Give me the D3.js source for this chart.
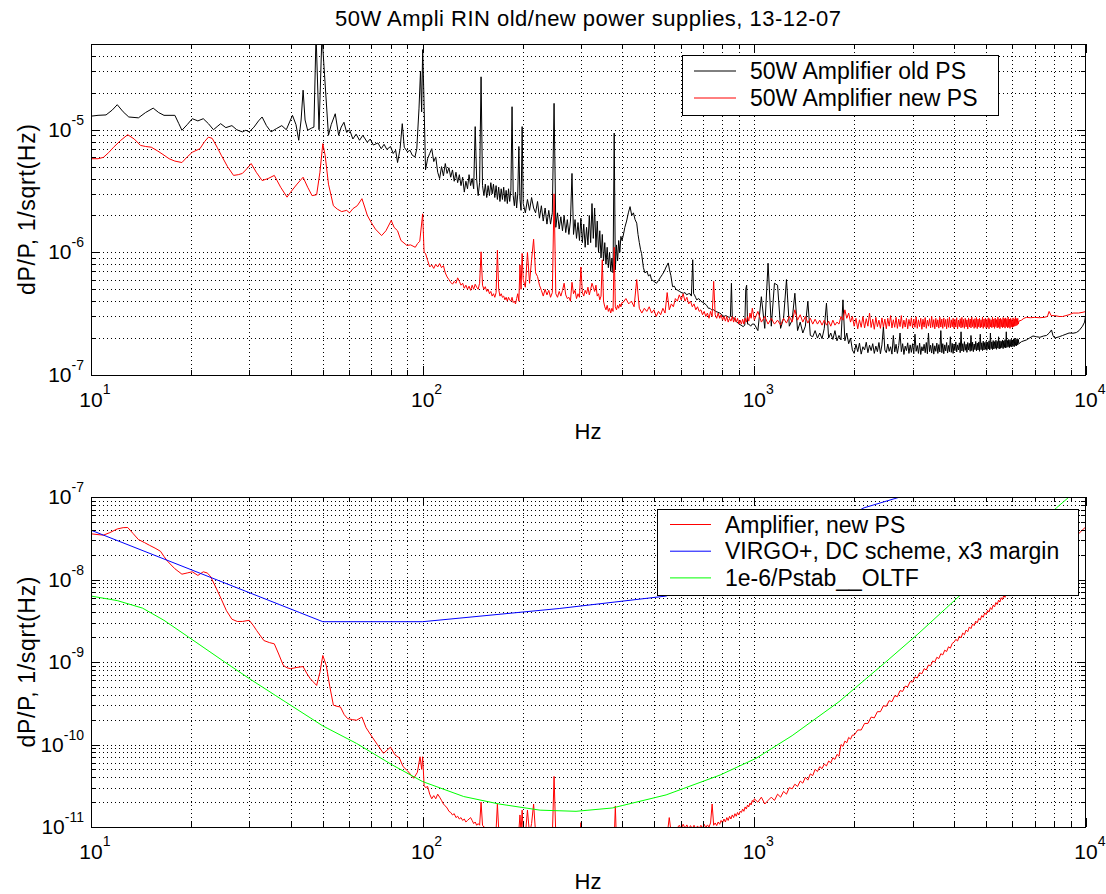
<!DOCTYPE html>
<html><head><meta charset="utf-8">
<script src="https://cdn.jsdelivr.net/npm/d3@7/dist/d3.min.js"></script>
<style>
html,body{margin:0;padding:0;background:#fff;}
svg{display:block;font-family:"Liberation Sans",Arial,Helvetica,sans-serif;}
</style></head><body>
<svg id="chart" width="1106" height="894"></svg>
<script>
// ---------------- DATA ----------------
// Top panel values are in units of 1e-7 1/sqrt(Hz); bottom panel in units of 1e-11 1/sqrt(Hz).
// [Hz, value] pairs for sparse parts; evenly spaced FFT-like bins (start, step) for dense parts.
const titleText = "50W Ampli RIN old/new power supplies, 13-12-07";
const yLabel = "dP/P, 1/sqrt(Hz)";
const xLabel = "Hz";
const topLegend = ["50W Amplifier old PS", "50W Amplifier new PS"];
const botLegend = ["Amplifier, new PS", "VIRGO+, DC scheme, x3 margin", "1e-6/Pstab__OLTF"];
const xTickExp = [1, 2, 3, 4];
const topTickExp = [-7, -6, -5];
const botTickExp = [-11, -10, -9, -8, -7];

// --- old PS (black), top ---
const oldLow = [[10,129],[10.5,131],[11.1,132],[11.6,145],[12.0,160],[12.5,140],[13.0,127],[13.9,125],[14.6,138],[15.4,150],[16.0,138],[16.6,131],[17.9,131],[18.4,112],[18.8,99],[19.5,110],[20.2,123],[21.0,118],[21.8,123],[22.6,112],[23.4,100],[24.0,106],[24.6,112],[25.5,104],[26.6,108],[27.5,100],[28.6,96],[29.3,99],[30.0,96],[31,105],[32.0,118],[32.8,127],[33.8,108],[34.9,96],[36.2,102],[37.6,108],[38.8,100],[40.5,131],[41.5,110],[42.3,82],[43.0,120],[43.6,210],[44.2,120],[45.0,99],[46.2,103],[47.0,105],[47.7,600],[48.7,100],[49.7,600],[50.6,280],[52,90],[53,110],[54.5,135],[55.8,90],[56.8,105],[57.9,115],[59,95],[60.2,100],[61.6,84],[63,92],[64.5,82],[66,90],[68.1,79],[69.5,84],[71,75],[73.3,78],[75,70],[76.5,76],[78,69],[80,73],[81.5,64],[82.9,68],[84,54],[85.5,70],[86.8,112],[88,72],[90,66],[91.6,68],[93,62],[94.8,60],[96,70],[97.5,150],[98.5,300],[99.3,140],[100,450],[100.8,200]];
const oldBins1 = [47,58,64,70,55,60,45,40,50,42,53,44,49,41,47,38,45,37,43,35,41,31,38,33,43,35,40,33,106,39,29,37,270,35,29,36,28,35,29,37,30,36,28,35,27,34,26,33,27,34,26,32,25,33,26,32,154,29,24,31,23,30,73,27,22,106];
const oldBins2 = [25,21,27,22,28,23,21,26,19,24,18,23,17,22,17,21,164,16,21,15.5,19.5,15,20,14.5,18.5,14,18,44,14,18.5,13,17.5,12.5,19,12,17,11,16,11.5,20,12,25,13,23,11,18,10,15,9,14,8.5,12,8,11,7.5,10,7,9,6.8,94,7.2,11.5,8.5,12.5,10,13.5,12.5];
const oldMid = [[402,13.5],[407,16],[412,18],[417,21],[422,23.6],[427,20],[432,21],[437,18.5],[442,17.3],[446,14],[450,12],[454,10.5],[457,9.8],[463,7.5],[468,6.8],[474,7.0],[480,6.4],[485,6.6],[490,6.0],[498,5.8],[507,5.6],[514,5.9],[520,6.2],[528,6.6],[535,7.0],[542,7.6],[550,8.2],[555,7.2],[560,6.5],[567,5.25],[574,5.3],[580,5.0],[588,4.9],[595,4.8],[603,4.7],[611,4.64],[618,4.7],[625,4.5],[633,4.6],[640,4.6],[646,4.4],[652,8.7],[656,4.6],[660,4.5],[665,4.3],[670,4.1],[680,4.2],[690,4.0],[700,3.9],[710,3.8],[718,3.7],[727,3.5],[735,3.5],[743,3.4],[754,3.4],[765,3.3],[776,3.25],[787,3.2],[798,3.1],[810,3.0],[820,3.05],[830,3.0],[840,2.95],[847,3.0],[853,5.6],[858,3.0],[866,2.9],[873,2.8],[886,2.7],[900,2.6],[912,2.55],[925,2.48],[936,2.55],[942,5.0],[948,5.4],[954,2.6],[962,2.6],[975,2.5],[985,2.6]];
const oldBins3 = [2.6,2.3,4.35,2.4,8.15,2.5,5.6,5.4,2.4,2.9,6.0,2.5,2.8,4.64,2.3,2.7,2.2,2.5,4.0,2.1,2.05,2.3,2.0,2.2,1.98,2.4,3.85,2.0,2.2,1.95,2.3,1.9,2.1,1.93,4.1,1.9,2.2,1.8,2.0,1.6];
const oldBins4 = [1.50,1.78,1.55,1.82,1.48,1.70,1.60,1.85,1.52,1.75, 1.58,1.80,1.50,1.72,1.55,1.84,1.49,1.76,2.48,1.60, 1.52,1.79,1.56,1.70,1.48,2.10,1.54,1.78,1.50,1.74, 2.20,1.55,1.80,1.47,1.72,1.58,1.83,1.50,1.76,1.53, 1.80,1.49,2.15,1.56,1.74,1.50,1.82,1.47,1.70,1.57, 1.78,1.52,1.84,1.49,2.20,1.55,1.75,1.51,1.81,1.48, 1.73,1.56,1.82,1.50,1.77,1.54,2.30,1.52,1.80,1.49, 1.76,1.57,1.84,1.51,1.74,1.55,2.05,1.53,1.81,1.50, 1.79,1.58,1.86,1.54,1.76,1.60,1.83,1.52,2.25,1.57, 1.80,1.55,1.87,1.59,1.78,1.53,1.84,1.60,1.81,1.56, 2.10,1.58,1.85,1.55,1.79,1.61,1.88,1.57,1.82,1.60, 1.86,1.56,2.15,1.61,1.83,1.58,1.89,1.60,1.84,1.62, 1.88,1.59,1.85,1.63,1.90,1.60,2.20,1.64,1.86,1.61, 1.91,1.63,1.87,1.65,1.92,1.62,1.88,1.66,2.05,1.63, 1.90,1.65,1.88,1.67,1.93,1.64,1.90,1.68,1.94,1.66, 2.25,1.68,1.91,1.70,1.95,1.67,1.92,1.71,1.96,1.69, 1.93,1.72,1.97,1.70,2.0,1.74,1.95,1.73,1.98,1.76, 1.95,1.80];
const oldHigh = [[6390,1.87],[6500,1.9],[6610,1.93],[6750,2.0],[6920,2.08],[7100,2.05],[7260,2.03],[7450,2.08],[7600,2.1],[7750,2.2],[7870,2.33],[7950,2.1],[8050,2.0],[8300,2.05],[8500,2.1],[8700,2.15],[8890,2.2],[9140,2.19],[9350,2.22],[9530,2.3],[9760,2.5],[9900,2.7],[9960,3.0],[10000,3.2]];

// --- new PS (red), top ---
const newLow = [[10,58],[10.5,58],[10.9,59.5],[11.3,65],[11.7,72],[12.3,82],[12.9,91],[13.5,84],[14.1,74.5],[14.6,73],[15.2,72],[15.9,67],[16.6,62],[17.2,58],[17.9,55.5],[18.8,54],[19.5,60],[20.2,65.5],[21.3,70],[22.0,80],[22.6,87],[23.2,85],[24.0,72],[24.7,62],[25.8,50],[26.9,42.4],[27.8,43],[28.6,44],[29.5,48],[30.4,53],[31.5,45],[32.8,38.5],[34.2,40],[35.7,42.4],[37.3,34],[39.0,28.2],[40,31],[41.8,36],[43.6,41],[45,34],[46.4,29],[47.9,29.5],[49.0,45],[50,77],[50.8,62],[52,36],[53.8,24],[55.3,22.5],[57,21.5],[59,22],[60.2,21],[61.6,22.7],[63.5,24],[65.6,27.4],[67,23],[68.1,20],[70,17.5],[72,15.5],[75.2,13.7],[77.5,15],[80.4,18.2],[82,16],[84,15],[86,12.5],[89.6,11.4],[92,11.5],[95,11],[96.5,11.8],[98,12.3],[100,20.6],[101,10]];
const newBins1 = [9.8,8.6,7.6,7.9,7.4,8.0,7.6,8.1,7.5,7.8,6.8,6.3,6.0,5.7,5.5,5.8,5.6,6.2,5.8,5.4,5.6,5.1,5.4,5.0,5.3,4.9,5.4,5.0,5.5,5.2,5.0,5.6,10.1,5.4,5.0,5.25,4.8,5.0,4.6,4.8,4.4,4.6,4.3,4.7,10.4,5.0,4.4,4.6,4.3,4.4,4.1,4.3,4.0,4.3,4.1,4.0,4.3,3.9,4.0,3.8,4.2,4.6,4.0,7.9,5.0,9.8];
const newBins2 = [6.0,5.2,10.0,5.6,8.7,12.8,6.8,6.35,5.4,4.9,4.4,5.0,4.5,4.9,4.3,4.7,30,4.6,4.3,4.8,4.4,4.9,5.6,4.5,4.2,4.3,4.0,5.7,4.6,4.9,4.2,4.6,4.3,7.6,4.7,4.4,4.9,4.6,5.2,4.5,5.0,5.6,5.2,4.8,5.4,4.4,4.6,4.1,4.4,8.7,4.0,3.6,3.4,3.7,3.3,3.5,3.2,3.5,3.3,11.0,3.6,3.4,3.7,3.5,3.8,3.6,3.9];
const newBinsMid = [3.9,4.2,3.8,4.0,3.6,6.0,3.5,3.2,3.5,3.3,3.6,3.2,3.4,3.0,3.3,3.1,3.5,3.2,4.7,3.4,3.8,3.6,4.2,4.0,4.5,4.1,4.6,4.0,4.3,3.8,4.0,3.6,3.8,3.4,3.6,3.3,3.4,3.1,3.3,3.0,3.2,2.9,3.3,3.0,5.8,3.1,2.9,3.2,2.9,3.1,2.8,3.0,2.75,3.0,2.7,2.9,2.75,3.0,2.7,2.95,2.7,2.9,2.6,2.8,2.6,2.85,2.6,2.9,2.7,3.0,2.75,3.2,2.9,3.5,3.1];
const newBins3 = [2.8,3.3,2.7,3.0,2.6,2.9,2.6,2.8,2.55,2.9,2.65,3.0,2.7,3.4,2.8,3.1,2.7,3.0,2.65,2.9,2.6,2.85,2.6,2.8,2.55,2.8,2.55,2.75,2.5,2.8,2.55,2.7,2.6,3.0,2.8,3.4,2.9,3.2,2.7,3.0];
const newBins4 = [2.50,2.90,2.38,2.82,2.45,3.00,2.42,2.88,2.50,3.20, 2.44,2.85,2.36,2.95,2.48,2.80,2.40,2.92,2.46,2.86, 2.38,2.90,2.50,3.05,2.42,2.82,2.45,2.95,2.40,2.85, 2.48,3.05,2.40,2.80,2.46,2.90,2.38,2.84,2.50,2.93, 2.42,2.86,2.45,2.98,2.40,2.82,2.48,2.90,2.36,2.85, 2.46,2.94,2.40,2.80,2.50,2.88,2.42,3.00,2.45,2.83, 2.38,2.90,2.47,2.82,2.41,2.95,2.46,2.86,2.40,2.92, 2.48,2.84,2.38,2.88,2.45,2.96,2.42,2.82,2.47,2.90, 2.40,2.85,2.46,2.93,2.38,2.81,2.48,2.88,2.42,2.95, 2.45,2.84,2.40,2.90,2.47,2.82,2.37,2.92,2.46,2.86, 2.42,2.96,2.48,2.83,2.40,2.88,2.45,2.94,2.39,2.85, 2.47,2.90,2.42,2.82,2.46,2.97,2.40,2.86,2.48,2.91, 2.41,2.84,2.45,2.93,2.38,2.88,2.47,2.82,2.43,2.95, 2.46,2.86,2.40,2.91,2.48,2.83,2.42,2.96,2.45,2.87, 2.39,2.90,2.47,2.84,2.43,2.94,2.46,2.88,2.41,2.92, 2.48,2.85,2.42,2.97,2.45,2.86,2.40,2.90,2.47,2.83, 2.44,2.92,2.48,2.86,2.50,2.95,2.52,2.88,2.55,2.90, 2.60,2.75];
const newHigh = [[6390,2.8],[6500,2.9],[6610,2.95],[6800,2.93],[7000,2.95],[7250,2.93],[7470,2.95],[7650,3.0],[7740,3.3],[7850,3.05],[8050,3.05],[8300,3.0],[8500,3.0],[8700,3.05],[8890,3.1],[9140,3.2],[9500,3.2],[9800,3.25],[10000,3.3]];

// --- Amplifier new PS (red), bottom ---
const ampLow = [[10,3580],[10.5,3500],[10.9,3450],[11.4,3700],[12.0,4100],[12.5,4250],[12.9,4270],[13.4,3600],[13.9,3050],[14.5,2800],[15.0,2600],[15.6,2400],[16.2,2200],[16.6,1900],[17.0,1670],[17.9,1350],[18.8,1160],[19.5,1200],[20.2,1240],[21.0,1120],[21.8,1240],[22.4,1200],[22.9,1100],[23.8,800],[24.7,580],[25.6,420],[26.6,330],[27.6,310],[28.6,310],[30.0,320],[30.8,280],[31.6,240],[33.2,182],[34.5,172],[35.7,166],[36.8,125],[38.0,91],[39,85],[40.0,83],[41.8,86],[43.6,88],[44.8,72],[45.8,63],[47.9,52],[49.0,75],[50,120],[51.2,91],[52.5,50],[53.8,30],[55.2,29],[56.5,28.5],[58,23],[59.4,20.6],[61.5,20],[63.2,19.7],[65.6,21.5],[67.5,16],[69.8,13],[73,10],[76.2,7.8],[78,8.5],[80.0,9.3],[82.5,7.5],[85,6.9],[87.3,5.4],[90,4.8],[94.0,3.9],[96.4,4.6],[98.2,7.1],[99.3,5.0],[100,7.1],[101,3.2]];
const ampBins1 = [3.0,3.1,2.5,2.2,2.4,2.2,2.5,2.3,2.1,1.9,1.8,1.7,1.55,1.5,1.4,1.45,1.3,1.35,1.25,1.3,1.2,1.25,1.15,1.2,1.25,1.3,1.2,1.1,1.15,1.05,1.1,1.05,2.0,1.05,1.0,0.98,0.95,0.97,0.93,0.95,0.9,0.93,0.9,0.92,1.9,0.95,0.9,0.92,0.88,0.9,0.86,0.88,0.85,0.87,0.84,0.86,0.95,0.84,0.82,0.84,0.8,0.82,0.9,1.4,0.85,1.6];
const ampBins2 = [0.85,0.8,1.6,0.82,1.1,1.9,0.85,0.8,0.78,0.8,0.76,0.79,0.75,0.78,0.74,0.77,4.1,0.8,0.75,0.77,0.73,0.76,1.0,0.74,0.72,0.75,0.71,0.9,0.73,0.7,0.72,0.69,0.71,1.13,0.7,0.68,0.71,0.69,0.72,0.68,0.7,0.73,0.69,0.71,0.68,0.7,0.67,0.69,0.66,0.95,0.68,0.66,0.69,0.67,0.7,0.66,0.68,0.65,0.67,0.68,1.8,0.66,0.68,0.65,0.67,0.66,0.68];
const ampBinsMid = [0.68,0.66,0.69,0.67,1.0,0.68,0.7,0.67,0.7,0.68,0.72,0.7,0.74,0.72,0.75,0.74,0.78,0.76,0.8,1.3,0.82,0.86,0.9,0.98,1.05,0.95,1.08,0.97,1.06,0.95,1.04,0.96,1.05,0.95,1.03,0.96,1.05,0.97,1.08,0.98,1.06,1.0,1.12,1.9,1.05,1.12,1.04,1.15,1.08,1.2,1.12,1.25,1.15,1.3,1.2,1.35,1.25,1.4,1.3,1.45,1.35,1.5,1.4,1.55,1.5,1.65,1.55,1.75,1.65,1.85,1.75,1.95,1.85,2.1,2.0];
const ampBins3 = [2.2,2.0,2.3,1.9,2.1,2.3,2.1,2.5,2.3,2.7,2.5,3.0,2.9,3.3,3.1,3.6,3.4,4.0,3.7,4.4,4.2,5.0,4.7,5.4,5.1,5.8,5.5,6.3,6.0,6.9,6.6,7.6,7.2,10.0,9.5,11.0,10.5,12.2,11.6,13.0];
const ampBins4 = [13,15,15,18,18,21.5,21,25,25,29.5,29,34,33,39,38,45,44,51,50,58,57,66,64,74,72,83,80,92,90,103,100,114,110,126,122,139,134,153,147,168,174,188,180,206,196,224,214,244,233,266,254,289,276,313,298,338,322,366,348,394,375,424,403,456,433,490,465,526,498,563,533,602,570,642,608,686,650,730,692,778,735,828,782,880,830,934,890];
const ampHigh = [[6390,950],[7000,1300],[7500,1700],[8000,2150],[8500,2600],[9000,3050],[9350,3360],[9700,3900],[10000,4360]];

// --- VIRGO+ (blue) and OLTF (green), bottom ---
const virgo = [[10,3960],[50,308],[100,308],[258,445],[542,630],[1000,1600],[2143,7400],[2750,10000],[3500,15000]];
const oltf = [[10,630],[12,555],[14.3,450],[16.6,320],[19.7,200],[25.3,100],[30,63],[38.5,33],[50,16.8],[63.2,10.3],[81,5.65],[100,3.55],[133,2.34],[170,1.9],[226,1.6],[290,1.55],[373,1.7],[542,2.45],[789,4.27],[1012,6.8],[1300,12.8],[1800,33],[2490,100],[3113,218],[4150,630],[6000,2500],[8150,7400],[8890,10000],[9500,13000]];

// ---------------- BUILD ----------------
const pairs = (a, u) => a.map(d => [d[0], d[1] * u]);
const bins = (start, step, vals, u) => vals.map((v, i) => [start + i * step, v * u]);

const U1 = 1e-7, U2 = 1e-11;
const oldPS = [...pairs(oldLow,U1), ...bins(102,1.5,oldBins1,U1), ...bins(201,3,oldBins2,U1), ...pairs(oldMid,U1), ...bins(1000,25,oldBins3,U1), ...bins(2000,25,oldBins4,U1), ...pairs(oldHigh,U1)];
const newPS = [...pairs(newLow,U1), ...bins(102,1.5,newBins1,U1), ...bins(201,3,newBins2,U1), ...bins(402,8,newBinsMid,U1), ...bins(1000,25,newBins3,U1), ...bins(2000,25,newBins4,U1), ...pairs(newHigh,U1)];
const ampPS = [...pairs(ampLow,U2), ...bins(102,1.5,ampBins1,U2), ...bins(201,3,ampBins2,U2), ...bins(402,8,ampBinsMid,U2), ...bins(1000,25,ampBins3,U2), ...bins(2000,50,ampBins4,U2), ...pairs(ampHigh,U2)];
const virgoS = pairs(virgo, U2);
const oltfS = pairs(oltf, U2);

const svg = d3.select('#chart');
const xL = 91, xR = 1086;
const x = d3.scaleLog().domain([10, 1e4]).range([xL, xR]);
const isMajor = v => Math.abs(Math.log10(v) - Math.round(Math.log10(v))) < 1e-6;

svg.append('text').attr('x', 588).attr('y', 26).attr('text-anchor', 'middle')
  .attr('font-size', 22).attr('fill', '#000')
  .attr('textLength', 506).attr('lengthAdjust', 'spacing').text(titleText);

function panel(cfg) {
  const y = d3.scaleLog().domain(cfg.dom).range([cfg.bottom, cfg.top]);
  const g = svg.append('g');
  const clipId = 'clip' + cfg.name;
  svg.append('clipPath').attr('id', clipId).append('rect')
    .attr('x', xL).attr('y', cfg.top).attr('width', xR - xL).attr('height', cfg.bottom - cfg.top);

  const xt = x.ticks();
  const yt = y.ticks();
  const gg = g.append('g').attr('stroke', '#000').attr('stroke-width', 1)
    .attr('stroke-dasharray', '1,3').attr('shape-rendering', 'crispEdges');
  xt.filter(v => v > 10 * 1.0001 && v < 1e4 * 0.9999).forEach(v => {
    const px = Math.round(x(v)) + 0.5;
    gg.append('line').attr('x1', px).attr('x2', px).attr('y1', cfg.top).attr('y2', cfg.bottom);
  });
  yt.filter(v => v > cfg.dom[0] * 1.0001 && v < cfg.dom[1] * 0.9999).forEach(v => {
    const py = Math.round(y(v)) + 0.5;
    gg.append('line').attr('x1', xL).attr('x2', xR).attr('y1', py).attr('y2', py);
  });

  const line = d3.line().x(d => x(d[0])).y(d => y(d[1]));
  const dg = g.append('g').attr('clip-path', `url(#${clipId})`);
  cfg.series.forEach(s => {
    dg.append('path').datum(s.data).attr('d', line).attr('fill', 'none')
      .attr('stroke', s.color).attr('stroke-width', 1).attr('stroke-linejoin', 'round');
  });

  // frame + ticks
  const tg = g.append('g').attr('stroke', '#000').attr('stroke-width', 1).attr('shape-rendering', 'crispEdges');
  xt.forEach(v => {
    const px = Math.round(x(v)) + 0.5, L = isMajor(v) ? 9 : 5;
    tg.append('line').attr('x1', px).attr('x2', px).attr('y1', cfg.bottom).attr('y2', cfg.bottom - L);
    tg.append('line').attr('x1', px).attr('x2', px).attr('y1', cfg.top).attr('y2', cfg.top + L);
  });
  yt.forEach(v => {
    const py = Math.round(y(v)) + 0.5, L = isMajor(v) ? 9 : 5;
    tg.append('line').attr('x1', xL).attr('x2', xL + L).attr('y1', py).attr('y2', py);
    tg.append('line').attr('x1', xR).attr('x2', xR - L).attr('y1', py).attr('y2', py);
  });
  tg.append('rect').attr('x', xL + 0.5).attr('y', cfg.top + 0.5).attr('width', xR - xL - 1)
    .attr('height', cfg.bottom - cfg.top).attr('fill', 'none');

  // tick labels
  xTickExp.forEach(e => {
    const px = x(Math.pow(10, e));
    const t = svg.append('text').attr('x', px - 11.7).attr('y', cfg.bottom + 32).attr('fill', '#000');
    t.append('tspan').attr('font-size', 21).text('10');
    t.append('tspan').attr('font-size', 14).attr('dy', -13).text(e);
  });
  cfg.yExp.forEach(e => {
    const py = y(Math.pow(10, e));
    const t = svg.append('text').attr('x', 84).attr('y', py + 7).attr('text-anchor', 'end').attr('fill', '#000');
    t.append('tspan').attr('font-size', 21).text('10');
    t.append('tspan').attr('font-size', 14).attr('dy', -12).text(e);
  });
  svg.append('text').attr('x', 588).attr('y', cfg.xLabelY).attr('text-anchor', 'middle')
    .attr('font-size', 22).attr('fill', '#000').text(xLabel);
  svg.append('text').attr('transform', `translate(34.5,${(cfg.top + cfg.bottom) / 2}) rotate(-90)`)
    .attr('text-anchor', 'middle').attr('font-size', 23).attr('fill', '#000')
    .attr('textLength', 171).attr('lengthAdjust', 'spacing').text(yLabel);

  // legend
  const L = cfg.legend;
  const lg = svg.append('g');
  lg.append('rect').attr('x', L.x0 + 0.5).attr('y', L.y0 + 0.5).attr('width', L.x1 - L.x0).attr('height', L.y1 - L.y0)
    .attr('fill', '#fff').attr('stroke', '#000').attr('stroke-width', 1);
  L.items.forEach((it, i) => {
    const by = L.base + i * L.dy;
    lg.append('line').attr('x1', L.lx0).attr('x2', L.lx1).attr('y1', by - 8).attr('y2', by - 8)
      .attr('stroke', it.color).attr('stroke-width', 1);
    lg.append('text').attr('x', L.tx).attr('y', by).attr('font-size', 23).attr('fill', '#000').text(it.label);
  });
}

panel({
  name: 'top', top: 44, bottom: 375, dom: [1e-7, 5e-5], yExp: topTickExp, xLabelY: 439,
  series: [{data: oldPS, color: '#000000'}, {data: newPS, color: '#ff0000'}],
  legend: {x0: 682, x1: 998, y0: 55, y1: 115, lx0: 694, lx1: 736, tx: 750, base: 79, dy: 27,
    items: [{label: topLegend[0], color: '#000000'}, {label: topLegend[1], color: '#ff0000'}]}
});
panel({
  name: 'bot', top: 497, bottom: 827, dom: [1e-11, 1e-7], yExp: botTickExp, xLabelY: 889,
  series: [{data: ampPS, color: '#ff0000'}, {data: virgoS, color: '#0000ff'}, {data: oltfS, color: '#00ff00'}],
  legend: {x0: 657, x1: 1078, y0: 509, y1: 595, lx0: 670, lx1: 711, tx: 725, base: 532.5, dy: 26.7,
    items: [{label: botLegend[0], color: '#ff0000'}, {label: botLegend[1], color: '#0000ff'}, {label: botLegend[2], color: '#00ff00'}]}
});
</script>
</body></html>
